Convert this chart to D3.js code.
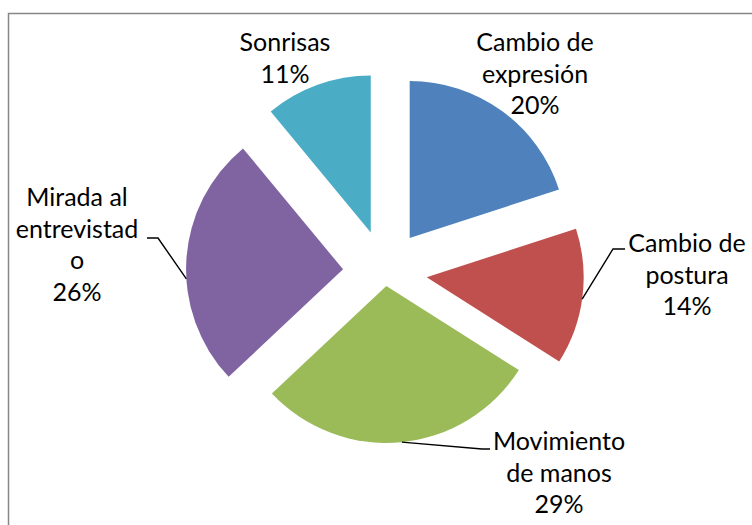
<!DOCTYPE html>
<html>
<head>
<meta charset="utf-8">
<script src="https://cdn.jsdelivr.net/npm/d3@7"></script>
<style>
  html, body { margin:0; padding:0; background:#fff; overflow:hidden; }
  .lbl { font-family: Lato, "Open Sans", sans-serif; font-size:25px; fill:#000; }
</style>
</head>
<body>
<div class="pie-chart-container"></div>
<script>
// Data
const categories = ['Cambio de expresión', 'Cambio de postura', 'Movimiento de manos', 'Mirada al entrevistado', 'Sonrisas'];
const values = [20, 14, 29, 26, 11];
const colors = ['#4F81BD', '#C0504D', '#9BBB59', '#8064A2', '#4BACC6'];
// label text as Excel wraps it
const labelLines = [
    ['Cambio de', 'expresión', '20%'],
    ['Cambio de', 'postura', '14%'],
    ['Movimiento', 'de manos', '29%'],
    ['Mirada al', 'entrevistad', 'o', '26%'],
    ['Sonrisas', '11%']
];
const explode = [42, 42, 14, 42, 42];

// layout
const svg_width = 752;
const svg_height = 525;
const center = {x:385, y:272};
const radius = 157;
const lineHeight = 31.6;
// label anchor (text centre x, first baseline y) and leader lines
const labelLayout = [
    {x:535, y:51},
    {x:687, y:252, leader:[[625,249],[613,249]], leaderAngle:98},
    {x:559, y:450, leader:[[490,449],[482,449]], leaderAngle:174.3},
    {x:77,  y:206, leader:[[147,238],[158,238]], leaderAngle:266.5},
    {x:285, y:51}
];

const svg = d3.select('.pie-chart-container').append('svg')
    .attr('width', svg_width).attr('height', svg_height);

// chart frame (runs past the window on right and bottom)
svg.append('rect')
    .attr('x', 8.5).attr('y', 13.5)
    .attr('width', 900).attr('height', 700)
    .style('fill', 'none').style('stroke', '#868686').style('stroke-width', 1.5);

const pie = d3.pie().sort(null).value(d => d)(values);
const arc = d3.arc().innerRadius(0).outerRadius(radius);

const chart = svg.append('g')
    .attr('transform', `translate(${center.x}, ${center.y})`);

// offset of each exploded slice
function sliceOffset(d, i){
    const mid = (d.startAngle + d.endAngle) / 2;
    return d3.pointRadial(mid, explode[i]);
}

chart.selectAll('.slice').data(pie).join('path')
    .attr('class', 'slice')
    .attr('transform', (d, i) => `translate(${sliceOffset(d, i)})`)
    .attr('d', arc)
    .style('fill', (d, i) => colors[i]);

// leader lines
const line = d3.line();
pie.forEach((d, i) => {
    const lay = labelLayout[i];
    if(!lay.leader) return;
    const off = sliceOffset(d, i);
    const p = d3.pointRadial(lay.leaderAngle * Math.PI / 180, radius);
    const end = [center.x + off[0] + p[0], center.y + off[1] + p[1]];
    svg.append('path')
        .attr('d', line([...lay.leader, end]))
        .style('fill', 'none').style('stroke', '#000').style('stroke-width', 1.4);
});

// labels
const labels = svg.selectAll('.lbl').data(labelLines).join('text')
    .attr('class', 'lbl')
    .attr('text-anchor', 'middle');
labels.each(function(lines, i){
    const lay = labelLayout[i];
    d3.select(this).selectAll('tspan').data(lines).join('tspan')
        .attr('x', lay.x)
        .attr('y', (t, j) => lay.y + j * lineHeight)
        .text(t => t);
});
</script>
</body>
</html>
